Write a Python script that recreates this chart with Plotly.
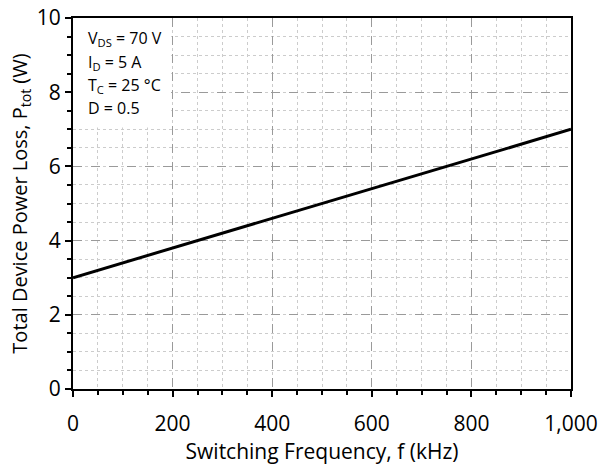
import plotly.graph_objects as go

freq_khz = [0, 1000]
p_tot_w = [3.0, 7.0]
x_ticks = [0, 200, 400, 600, 800, 1000]
x_tick_text = ["0", "200", "400", "600", "800", "1,000"]
y_ticks = [0, 2, 4, 6, 8, 10]
cond_lines = ["V<sub>DS</sub> = 70 V", "I<sub>D</sub> = 5 A", "T<sub>C</sub> = 25 °C", "D = 0.5"]

FONT = "Open Sans"

fig = go.Figure()
fig.add_trace(go.Scatter(x=freq_khz, y=p_tot_w, mode="lines",
                         line=dict(color="black", width=3), showlegend=False))

fig.add_shape(type="rect", xref="x", yref="y", x0=0, x1=197, y0=7.05, y1=10,
              fillcolor="white", line=dict(width=0), layer="between")

ys = [9.46, 8.79, 8.19, 7.57]
for t, yv in zip(cond_lines, ys):
    fig.add_annotation(x=0.026, xref="paper", y=yv, yref="y", text=t, showarrow=False,
                       xanchor="left", yanchor="middle",
                       font=dict(family=FONT, size=16, color="black"))

axis_common = dict(
    showline=True, linecolor="black", linewidth=2, mirror=True,
    ticks="outside", ticklen=6, tickwidth=1.5, tickcolor="black",
    showgrid=True, gridcolor="#9a9a9a", griddash="dash", gridwidth=1.2,
    tickfont=dict(family=FONT, size=21, color="black"),
    zeroline=False, automargin=False,
)

fig.update_xaxes(range=[0, 1000], tickvals=x_ticks, ticktext=x_tick_text,
                 ticklabelstandoff=9,
                 title=dict(text="Switching Frequency, f (kHz)", font=dict(family=FONT, size=21, color="black"),
                            standoff=6),
                 minor=dict(dtick=50, ticks="outside", ticklen=4, tickcolor="black",
                            showgrid=True, gridcolor="#cccccc", griddash="dot", gridwidth=1),
                 **axis_common)
fig.update_yaxes(range=[0, 10], tickvals=y_ticks,
                 title=dict(text="Total Device Power Loss, P<sub>tot</sub> (W)",
                            font=dict(family=FONT, size=20, color="black"), standoff=4),
                 minor=dict(dtick=0.5, ticks="outside", ticklen=4, tickcolor="black",
                            showgrid=True, gridcolor="#cccccc", griddash="dot", gridwidth=1),
                 **axis_common)

fig.update_layout(width=600, height=466, margin=dict(l=73, r=29, t=18, b=77),
                  plot_bgcolor="white", paper_bgcolor="white",
                  font=dict(family=FONT, color="black"))

fig.write_html("out.html")
